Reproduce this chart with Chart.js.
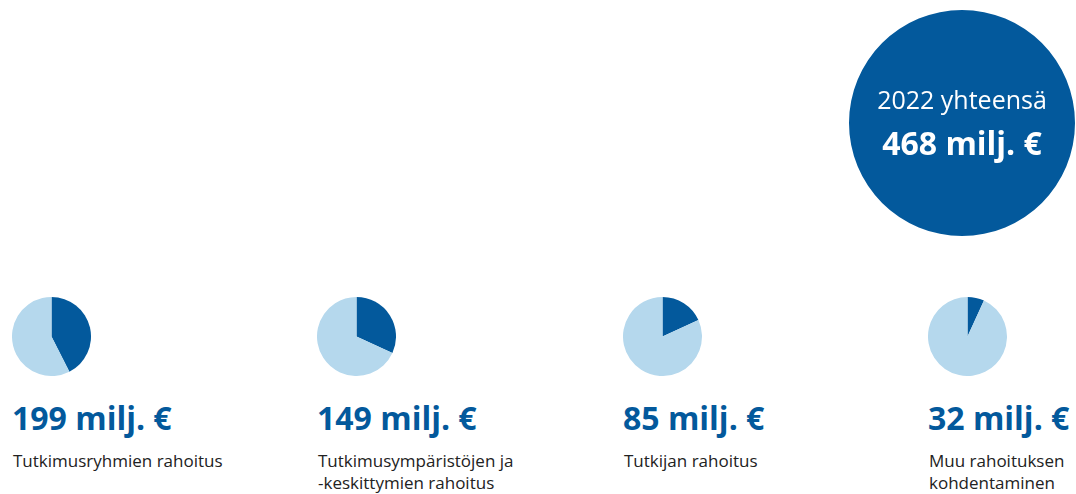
<!DOCTYPE html>
<html lang="fi">
<head>
<meta charset="utf-8">
<script src="https://cdn.jsdelivr.net/npm/chart.js@4/dist/chart.umd.min.js"></script>
<style>
  body { margin: 0; background: #fff; font-family: "Open Sans", sans-serif; }
  #wrap { position: relative; width: 1076px; height: 494px; overflow: hidden; }
  canvas { position: absolute; }
  .amount { position: absolute; font-size: 32px; font-weight: 700; color: #03599c; line-height: 32px; white-space: nowrap; }
  .label { position: absolute; font-size: 17px; color: #222; line-height: 22px; white-space: nowrap; }
  .total { position: absolute; left: 849px; width: 226px; text-align: center; color: #fff; white-space: nowrap; }
</style>
</head>
<body>
<div id="wrap">
  <canvas id="totalPie" width="226" height="226" style="left:849px; top:10px;"></canvas>
  <div class="total" style="top:84px; font-size:25px; line-height:30px;">2022 yhteensä</div>
  <div class="total" style="top:126px; font-size:32px; line-height:34px; font-weight:700;">468 milj. €</div>
</div>

<script>
// rahoitus 2022, milj. €
const year = 2022;
const total = 468;
const categories = [
    'Tutkimusryhmien rahoitus',
    'Tutkimusympäristöjen ja\n-keskittymien rahoitus',
    'Tutkijan rahoitus',
    'Muu rahoituksen\nkohdentaminen'
];
const values = [199, 149, 85, 32];

const darkBlue = '#03599c';
const lightBlue = '#b5d8ed';

// where each little pie + its texts go
const pieLeft = [12, 317, 623, 928];

const wrap = document.getElementById('wrap');

const baseOptions = {
    responsive: false,
    animation: false,
    events: [],
    layout: { padding: 0 },
    plugins: {
        legend: { display: false },
        tooltip: { enabled: false },
        title: { display: false }
    }
};

// the big total circle - just a one slice pie
new Chart(document.getElementById('totalPie'), {
    type: 'pie',
    data: {
        labels: [year + ' yhteensä'],
        datasets: [{
            data: [total],
            backgroundColor: [darkBlue],
            borderWidth: 0
        }]
    },
    options: baseOptions
});

categories.forEach((cat, i) => {
    let canvas = document.createElement('canvas');
    canvas.width = 79;
    canvas.height = 79;
    canvas.style.left = pieLeft[i] + 'px';
    canvas.style.top = '297px';
    wrap.appendChild(canvas);

    new Chart(canvas, {
        type: 'pie',
        data: {
            labels: [cat, 'muu'],
            datasets: [{
                data: [values[i], total - values[i]],
                backgroundColor: [darkBlue, lightBlue],
                borderWidth: 0
            }]
        },
        options: baseOptions
    });

    let amount = document.createElement('div');
    amount.className = 'amount';
    amount.style.left = pieLeft[i] + 'px';
    amount.style.top = '402px';
    amount.textContent = values[i] + ' milj. €';
    wrap.appendChild(amount);

    let label = document.createElement('div');
    label.className = 'label';
    label.style.left = (pieLeft[i] + 1) + 'px';
    label.style.top = '450px';
    label.innerHTML = cat.split('\n').join('<br>');
    wrap.appendChild(label);
});
</script>
</body>
</html>
